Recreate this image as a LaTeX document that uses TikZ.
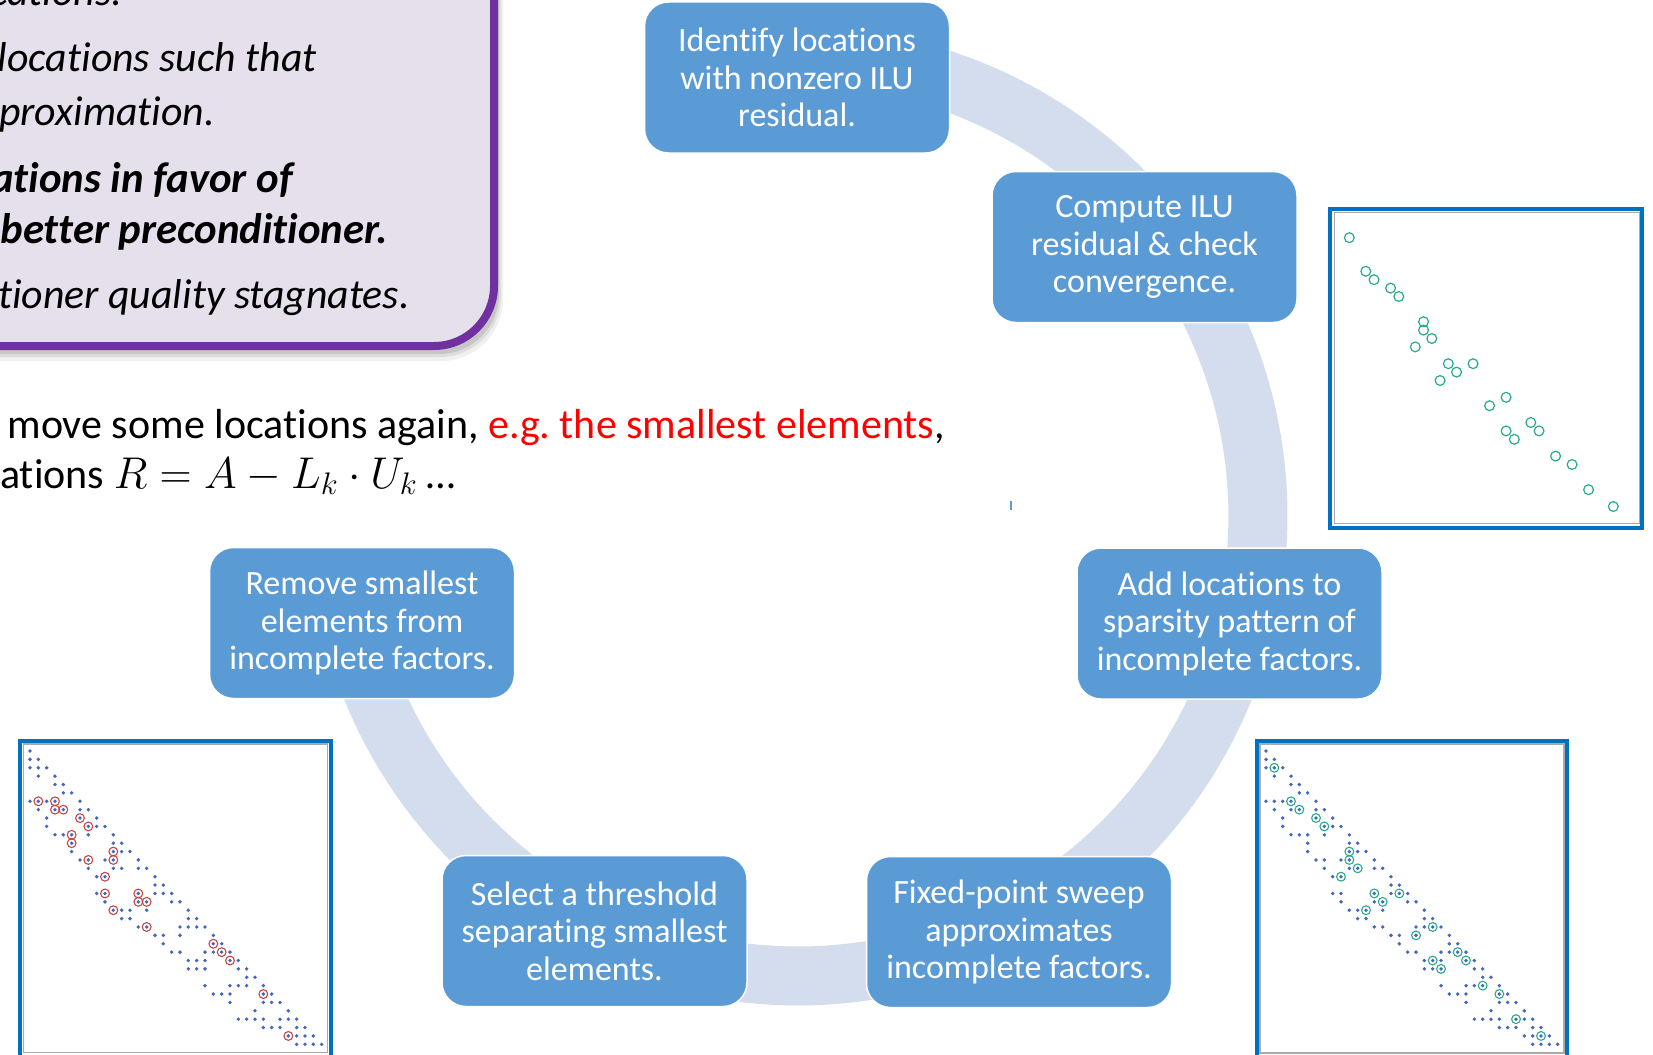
\RequirePackage{fix-cm}
\documentclass[tikz,border=0pt]{standalone}
\usepackage[no-math]{fontspec}
\setmainfont{Carlito}[Ligatures=NoCommon]

\definecolor{boxblue}{HTML}{5B9BD5}
\definecolor{ringblue}{RGB}{211,221,237}
\definecolor{lavender}{RGB}{229,224,236}
\definecolor{purpleedge}{HTML}{7030A0}
\definecolor{framblue}{HTML}{0070C0}
\definecolor{framgray}{RGB}{170,170,170}
\definecolor{dotblue}{RGB}{68,102,187}
\definecolor{markred}{RGB}{200,70,70}
\definecolor{markteal}{RGB}{40,170,140}

% sparsity pattern: row / columns of the nonzeros
\newcommand\patternrows{0/{0},1/{0,1},2/{0,1,2},3/{1,3},4/{3,4},5/{4,5},
 6/{0,1,2,3,6},7/{1,3,4,6,7},8/{2,6,8},9/{2,7,8,9},10/{3,4,5,7,10},
 11/{5,10,11},12/{5,10,11,12},13/{6,7,9,10,13},14/{7,10,11,13,14},
 15/{8,9,15},16/{15,16},17/{8,9,13,15,16,17},18/{9,13,14,17,18},
 19/{10,11,12,14,19},20/{11,12,19,20},21/{13,14,18,19,20,21},
 22/{15,16,18,22},23/{16,22,23},24/{17,18,21,22,23,24},25/{19,20,21,24,25},
 26/{19,20,21,25,26},27/{26,27},28/{21,24,25,26,28},29/{22,23,24,28,29},
 30/{24,28,29,30},31/{27,31},32/{25,26,27,28,30,31,32},33/{28,29,30,32,33},
 34/{31,32,33,34},35/{32,33,34,35}}
% locations added to the pattern (column/row)
\newcommand\addedlocs{1/2,3/6,4/7,6/8,7/9,10/12,10/13,11/14,9/15,13/17,16/17,
 14/18,12/19,20/21,18/22,23/24,20/25,24/25,21/26,26/28,28/29,30/32,33/34}
% smallest elements marked for removal (column/row)
\newcommand\removedlocs{1/6,3/6,3/7,4/7,6/8,7/9,5/10,5/11,10/12,7/13,10/13,
 9/15,9/17,13/17,13/18,14/18,10/19,14/21,22/23,23/24,24/25,28/29,31/34}

\begin{document}
\frenchspacing
\begin{tikzpicture}[x=1pt,y=-1pt,
  stepbox/.style={rectangle, rounded corners=24pt, fill=boxblue, draw=white,
    line width=1.5pt, minimum width=305pt, minimum height=151pt, inner sep=0pt,
    text=white, align=center, font=\fontsize{34}{37.5}\selectfont},
  itline/.style={anchor=base east, inner sep=0pt,
    font=\fontsize{41.8}{49}\selectfont\itshape},
  bfline/.style={anchor=base east, inner sep=0pt,
    font=\fontsize{42.8}{49}\selectfont\bfseries\itshape},
  bodyline/.style={inner sep=0pt, font=\fontsize{42}{50}\selectfont},
  frameouter/.style={draw=framblue, line width=4pt},
  frameinner/.style={draw=framgray, line width=1.2pt},
  nzdot/.style={fill=dotblue},
  ring/.style={draw=ringblue, line width=59pt}]

\useasboundingbox (0,0) rectangle (1653,1054);
\clip (0,0) rectangle (1653,1054);
\fill[white] (0,0) rectangle (1653,1054);

% ---------- summary panel (upper left) ----------
\fill[black, opacity=0.06, rounded corners=62pt] (-60,-60) rectangle (503,361);
\fill[black, opacity=0.08, rounded corners=61pt] (-60,-60) rectangle (501,357);
\fill[black, opacity=0.10, rounded corners=60pt] (-60,-60) rectangle (499,354);
\draw[draw=purpleedge, fill=lavender, line width=8pt, rounded corners=60pt]
  (-60,-60) rectangle (494,346);

\node[itline] (p0) at (123,6) {cations:};
\node[itline] (p1) at (317,72) {locations such that};
\node[itline] (p2) at (215,125) {proximation.};
\node[bfline] (p3) at (293,192) {ations in favor of};
\node[bfline] (p4) at (388,243) {better preconditioner.};
\node[itline] (p5) at (410,308) {tioner quality stagnates.};

% ---------- body text ----------
\node[bodyline, anchor=base east] (t1) at (945,438.5)
  {move some locations again, \textcolor{red}{e.g. the smallest elements},};
\node[bodyline, anchor=base west] (t2) at (0,488)
  {ations {\fontsize{44.5}{50}\selectfont$R = A - L_k \cdot U_k$} …};

% ---------- cycle ----------
\draw[ring] plot[domain=-95:172, samples=160]
  ({798+460*cos(\x)},{516+460*sin(\x)});

\node[stepbox] (identify)  at (797,77.5)   {Identify locations\\with nonzero ILU\\residual.};
\node[stepbox] (compute)   at (1144.5,247) {Compute ILU\\residual \& check\\convergence.};
\node[stepbox] (addloc)    at (1229.5,623.5) {Add locations to\\sparsity pattern of\\incomplete factors.};
\node[stepbox] (sweep)     at (1019,932)   {Fixed-point sweep\\approximates\\incomplete factors.};
\node[stepbox] (threshold) at (594.5,931)  {Select a threshold\\separating smallest\\elements.};
\node[stepbox] (remove)    at (362,623)    {Remove smallest\\elements from\\incomplete factors.};

\draw[boxblue, line width=1.3pt] (1011,501) -- (1011,510);

% ---------- residual locations (upper right) ----------
\fill[white] (1330,209) rectangle (1642,528);
\draw[frameinner] (1334.5,212.5) rectangle (1639.5,523.5);
\draw[frameouter] (1330,209) rectangle (1642,528);
\begin{scope}[shift={(1341.05,220.9)}, x=8.25pt, y=-8.4pt]
  \foreach \c/\r in \addedlocs
    \draw[markteal, line width=1.2pt] (\c,\r) circle[radius=4.9pt];
\end{scope}

% ---------- factors with smallest elements marked (lower left) ----------
\fill[white] (20,741) rectangle (331,1060);
\draw[frameinner] (23.5,744) rectangle (327.5,1052.5);
\draw[frameouter] (20,741) rectangle (331,1062);
\begin{scope}[shift={(30,751)}, x=8.333pt, y=-8.38pt]
  \foreach \r/\cols in \patternrows
    \foreach \c in \cols
      \fill[nzdot] (\c,\r) circle[radius=1.9pt];
  \foreach \c/\r in \removedlocs
    \draw[markred, line width=1.1pt] (\c,\r) circle[radius=4.4pt];
\end{scope}

% ---------- enlarged pattern with added locations (lower right) ----------
\fill[white] (1257,741) rectangle (1567,1060);
\draw[frameinner] (1260,744) rectangle (1564,1053);
\draw[frameouter] (1257,741) rectangle (1567,1062);
\begin{scope}[shift={(1266,751)}, x=8.333pt, y=-8.38pt]
  \foreach \r/\cols in \patternrows
    \foreach \c in \cols
      \fill[nzdot] (\c,\r) circle[radius=1.9pt];
  \foreach \c/\r in \addedlocs
    \draw[markteal, line width=1.1pt] (\c,\r) circle[radius=4.4pt];
\end{scope}

\end{tikzpicture}
\end{document}
